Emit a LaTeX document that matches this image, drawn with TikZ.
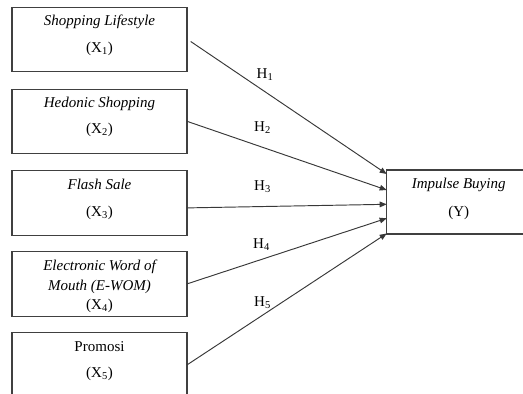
\documentclass[tikz,border=0pt]{standalone}
\usepackage{fontspec}
\setmainfont{Liberation Serif}
\usetikzlibrary{arrows.meta}
\definecolor{edge}{HTML}{404040}
\definecolor{conn}{HTML}{383838}
\tikzset{
  box/.style={draw=edge, line width=1.1pt, minimum width=175pt, minimum height=64.4pt, inner sep=0pt, outer sep=0pt},
  ybox/.style={draw=edge, line width=1.1pt, minimum width=150pt, minimum height=64pt, inner sep=0pt, outer sep=0pt, anchor=west},
  txt/.style={anchor=base, inner sep=0pt, font=\fontsize{15}{18}\selectfont},
  hlab/.style={anchor=base west, inner sep=0pt, font=\fontsize{15}{18}\selectfont},
  arr/.style={draw=conn, line width=0.95pt, -{Triangle[length=7pt,width=5.6pt]}}
}
\begin{document}
\begin{tikzpicture}[x=1pt,y=-1pt]
\useasboundingbox (0,0) rectangle (523,394);
\clip (0,0) rectangle (523,394);
% left boxes
\node[box] (b1) at (99.5,39.5) {};
\node[box] (b2) at (99.5,121.3) {};
\node[box] (b3) at (99.5,202.9) {};
\node[box] (b4) at (99.5,283.9) {};
\node[box] (b5) at (99.5,364.9) {};
% right box
\node[ybox] (y) at (386.7,202) {};
% texts
\node[txt] (t1a) at ([yshift=-18pt]b1.north) {\itshape Shopping Lifestyle};
\node[txt] (t1b) at ([yshift=-45pt]b1.north) {(X\textsubscript{1})};
\node[txt] (t2a) at ([yshift=-18pt]b2.north) {\itshape Hedonic Shopping};
\node[txt] (t2b) at ([yshift=-44.5pt]b2.north) {(X\textsubscript{2})};
\node[txt] (t3a) at ([yshift=-18.3pt]b3.north) {\itshape Flash Sale};
\node[txt] (t3b) at ([yshift=-46pt]b3.north) {(X\textsubscript{3})};
\node[txt] (t4a) at ([yshift=-18.3pt]b4.north) {\itshape Electronic Word of};
\node[txt] (t4b) at ([yshift=-38.3pt]b4.north) {\itshape Mouth (E-WOM)};
\node[txt] (t4c) at ([yshift=-57.3pt]b4.north) {(X\textsubscript{4})};
\node[txt] (t5a) at ([yshift=-18.3pt]b5.north) {Promosi};
\node[txt] (t5b) at ([yshift=-44.3pt]b5.north) {(X\textsubscript{5})};
\node[txt] (ya) at ([xshift=72pt,yshift=-18pt]y.north west) {\itshape Impulse Buying};
\node[txt] (yb) at ([xshift=72pt,yshift=-46pt]y.north west) {(Y)};
% arrow end points
\coordinate (e1) at ([yshift=28pt]y.west);
\coordinate (e2) at ([yshift=12pt]y.west);
\coordinate (e3) at ([yshift=-2.3pt]y.west);
\coordinate (e4) at ([yshift=-16.3pt]y.west);
\coordinate (e5) at ([yshift=-31.5pt]y.west);
\coordinate (s1) at ([xshift=3.7pt,yshift=-2pt]b1.east);
\coordinate (s3) at ([yshift=-5pt]b3.east);
% connectors
\draw[arr] (s1) -- (e1);
\draw[arr] (b2.east) -- (e2);
\draw[arr] (s3) -- (e3);
\draw[arr] (b4.east) -- (e4);
\draw[arr] (b5.east) -- (e5);
% labels
\node[hlab] (h1) at (256.5,78) {H\textsubscript{1}};
\node[hlab] (h2) at (254,131.5) {H\textsubscript{2}};
\node[hlab] (h3) at (254,190) {H\textsubscript{3}};
\node[hlab] (h4) at (253,248) {H\textsubscript{4}};
\node[hlab] (h5) at (254,306) {H\textsubscript{5}};
\end{tikzpicture}
\end{document}
